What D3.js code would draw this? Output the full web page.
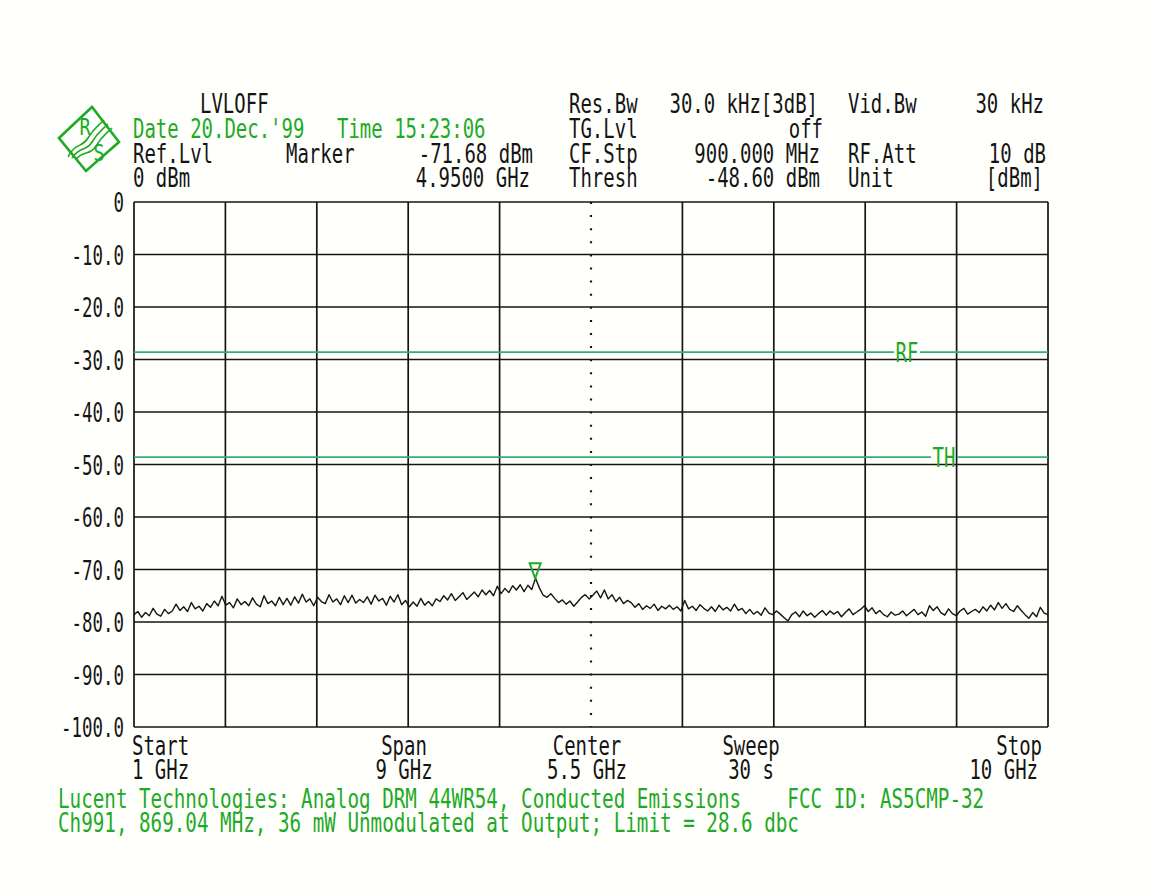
<!DOCTYPE html>
<html>
<head>
<meta charset="utf-8">
<script src="https://cdn.jsdelivr.net/npm/d3@7"></script>
<style>
  html, body { margin: 0; padding: 0; background: #fffffb; }
  svg { display: block; }
  text { font-family: "DejaVu Sans Mono", monospace; font-size: 26px; white-space: pre; }
</style>
</head>
<body>
<svg id="chart" width="1156" height="888"></svg>
<script>
// Sweep settings
const freqStartGHz = 1;
const freqStopGHz = 10;
const xDivisions = 10;

// Level axis
const yTickValues = [0, -10, -20, -30, -40, -50, -60, -70, -80, -90, -100];
const yTickLabels = ["0", "-10.0", "-20.0", "-30.0", "-40.0", "-50.0", "-60.0", "-70.0", "-80.0", "-90.0", "-100.0"];

// Measured trace (dBm), evenly spaced from start to stop frequency
const traceDbm = [
  -78.6, -78.0, -79.1, -78.2, -78.8, -77.4, -78.5, -78.9, -77.6, -78.4,
  -77.9, -76.6, -77.8, -77.1, -78.0, -76.3, -77.5, -77.0, -77.9, -76.5,
  -77.2, -76.0, -76.9, -75.1, -76.8, -76.3, -77.3, -75.6, -76.7, -76.1,
  -76.9, -75.4, -76.6, -77.1, -75.0, -76.5, -76.0, -76.9, -75.3, -76.7,
  -75.5, -76.8, -75.2, -76.4, -74.7, -76.2, -75.6, -76.9, -75.3, -76.1,
  -76.5, -74.8, -76.2, -75.6, -76.7, -75.0, -76.3, -74.9, -76.4, -75.7,
  -76.3, -75.2, -76.6, -74.9, -76.0, -75.5, -76.8, -75.1, -76.2, -74.8,
  -76.7, -75.9, -77.1, -76.2, -77.0, -75.5, -76.8, -76.1, -76.9, -75.6,
  -76.1, -75.0, -75.8, -74.6, -75.9, -75.2, -74.4, -75.7, -75.0, -74.3,
  -75.2, -73.9, -74.8, -74.0, -75.0, -73.2, -74.6, -73.6, -74.4, -73.1,
  -73.9, -72.9, -74.2, -73.0, -73.8, -71.68, -73.5, -74.9, -75.3, -74.6,
  -75.5, -76.3, -75.8, -76.6, -76.0, -77.0, -76.2, -75.3, -74.8, -75.6,
  -74.9, -74.1, -75.4, -73.9, -75.6, -74.8, -76.1, -75.3, -76.5, -75.9,
  -76.3, -77.2, -76.5, -77.6, -76.9, -77.4, -76.6, -77.8, -77.0, -77.5,
  -76.8, -77.6, -77.1, -77.9, -75.9, -77.5, -77.0, -77.8, -76.7, -77.4,
  -77.9, -77.1, -78.0, -76.8, -77.7, -77.2, -77.9, -76.6, -77.8, -77.4,
  -78.4, -77.6, -78.5, -78.0, -78.7, -77.3, -78.3, -78.6, -77.9, -78.5,
  -79.2, -79.8, -78.6, -78.1, -79.0, -77.9, -78.8, -78.3, -79.1, -78.4,
  -77.8, -78.7, -77.9, -78.5, -78.0, -79.0, -78.2, -77.5, -78.6, -78.1,
  -77.6, -76.9, -78.0, -77.3, -78.4, -77.8, -78.6, -79.0, -78.1, -78.7,
  -78.5, -77.9, -78.8, -78.2, -77.6, -78.6, -78.1, -78.9, -76.9, -77.8,
  -77.1, -78.2, -78.7, -77.5, -78.4, -78.8, -77.9, -77.4, -78.5, -78.0,
  -77.6, -78.2, -77.1, -77.9, -76.8, -77.7, -76.3, -77.4, -76.5, -77.6,
  -78.0, -76.9, -77.8, -78.6, -79.3, -78.2, -79.0, -77.2, -78.3, -78.6
];

// Marker readout
const markerFreqGHz = 4.95;
const markerDbm = -71.68;

// Display lines
const lineNames = ["RF", "TH"];
const lineLevels = [-28.6, -48.6];

// Footer annotation
const footerLines = [
  "Lucent Technologies: Analog DRM 44WR54, Conducted Emissions    FCC ID: AS5CMP-32",
  "Ch991, 869.04 MHz, 36 mW Unmodulated at Output; Limit = 28.6 dbc"
];

// Sweep parameter captions under the grid
const sweepCaptions = ["Start", "Span", "Center", "Sweep", "Stop"];
const sweepValues = ["1 GHz", "9 GHz", "5.5 GHz", "30 s", "10 GHz"];

const INK = "#141414";
const GREEN = "#1eaa26";
const LINE_GREEN = "#30b070";

const svg = d3.select("#chart");
svg.append("rect").attr("width", 1156).attr("height", 888).attr("fill", "#fffffb");

const plot = { left: 134, right: 1048, top: 202, bottom: 727 };

const x = d3.scaleLinear().domain([freqStartGHz, freqStopGHz]).range([plot.left, plot.right]);
const y = d3.scaleLinear().domain([-100, 0]).range([plot.bottom, plot.top]);

// Condensed instrument-style text (narrow glyphs, tall caps)
const SX = 0.73, SY = 1.04;
function label(parent, px, py, s, anchor = "start", color = INK, sx = SX) {
  return parent.append("text")
    .attr("transform", `translate(${px},${py}) scale(${sx},${SY})`)
    .attr("text-anchor", anchor)
    .attr("fill", color)
    .text(s);
}

// ---- Grid ----
const grid = svg.append("g");
const xGridFreqs = d3.range(xDivisions + 1).map(i => freqStartGHz + i * (freqStopGHz - freqStartGHz) / xDivisions);

grid.selectAll("line.h").data(yTickValues).join("line")
  .attr("x1", plot.left).attr("x2", plot.right)
  .attr("y1", d => y(d)).attr("y2", d => y(d))
  .attr("stroke", INK).attr("stroke-width", 1.7);

grid.selectAll("line.v").data(xGridFreqs).join("line")
  .attr("x1", d => x(d)).attr("x2", d => x(d))
  .attr("y1", plot.top).attr("y2", plot.bottom)
  .attr("stroke", INK)
  .attr("stroke-width", (d, i) => i === xDivisions / 2 ? 2.2 : 1.7)
  .attr("stroke-dasharray", (d, i) => i === xDivisions / 2 ? "2,11.1" : null);

// Y axis labels
const yAxis = svg.append("g");
yTickValues.forEach((v, i) => {
  label(yAxis, 124, y(v) + 10, yTickLabels[i], "end", INK, 0.67);
});

// ---- Display lines ----
const labelCenters = [907, 944];
lineLevels.forEach((lv, i) => {
  const ly = y(lv);
  const cx = labelCenters[i];
  const half = 13;
  svg.append("line").attr("x1", plot.left).attr("x2", cx - half)
    .attr("y1", ly).attr("y2", ly).attr("stroke", LINE_GREEN).attr("stroke-width", 1.7);
  svg.append("line").attr("x1", cx + half).attr("x2", plot.right)
    .attr("y1", ly).attr("y2", ly).attr("stroke", LINE_GREEN).attr("stroke-width", 1.7);
  label(svg, cx, ly + 10, lineNames[i], "middle", GREEN);
});

// ---- Trace ----
const step = (freqStopGHz - freqStartGHz) / (traceDbm.length - 1);
const line = d3.line()
  .x((d, i) => x(freqStartGHz + i * step))
  .y(d => y(d));
svg.append("path").datum(traceDbm)
  .attr("d", line)
  .attr("fill", "none")
  .attr("stroke", INK)
  .attr("stroke-width", 1.4)
  .attr("stroke-linejoin", "round");

// ---- Marker ----
const mx = x(markerFreqGHz), my = y(markerDbm);
svg.append("path")
  .attr("d", `M${mx - 5.5},${my - 15} L${mx + 5.5},${my - 15} L${mx},${my} Z`)
  .attr("fill", "none").attr("stroke", GREEN).attr("stroke-width", 2);

// ---- Header block ----
const hdr = svg.append("g");
label(hdr, 200, 113, "LVLOFF");
label(hdr, 133, 138, "Date 20.Dec.'99", "start", GREEN);
label(hdr, 337, 138, "Time 15:23:06", "start", GREEN);
label(hdr, 133, 163, "Ref.Lvl");
label(hdr, 286, 163, "Marker");
label(hdr, 533, 163, "-71.68 dBm", "end");
label(hdr, 133, 187, "0 dBm");
label(hdr, 530, 187, "4.9500 GHz", "end");

label(hdr, 569, 113, "Res.Bw");
label(hdr, 818, 113, "30.0 kHz[3dB]", "end");
label(hdr, 848, 113, "Vid.Bw");
label(hdr, 1044, 113, "30 kHz", "end");
label(hdr, 569, 138, "TG.Lvl");
label(hdr, 823, 138, "off", "end");
label(hdr, 569, 163, "CF.Stp");
label(hdr, 820, 163, "900.000 MHz", "end");
label(hdr, 848, 163, "RF.Att");
label(hdr, 1046, 163, "10 dB", "end");
label(hdr, 569, 187, "Thresh");
label(hdr, 820, 187, "-48.60 dBm", "end");
label(hdr, 848, 187, "Unit");
label(hdr, 1043, 187, "[dBm]", "end");

// ---- Logo ----
const logo = svg.append("g").attr("transform", "translate(89,139)");
logo.append("path")
  .attr("d", "M-30,-1 L3,-32 L30,3 L-3,32 Z")
  .attr("fill", "none").attr("stroke", GREEN).attr("stroke-width", 2.6).attr("stroke-linejoin", "miter");
[-4, 0, 4].forEach(o => {
  logo.append("path")
    .attr("d", `M${-17 + o},${19 + o * 0.3} C${-9 + o},${7 + o} ${-3 + o},${13 + o} ${3 + o},${3 + o} S${12 + o},${-8 + o} ${19 + o},${-15 + o}`)
    .attr("fill", "none").attr("stroke", GREEN).attr("stroke-width", 1.6);
});
logo.append("text").attr("transform", "translate(-4,-4) scale(0.8,1)").attr("fill", GREEN)
  .style("font-size", "23px").attr("text-anchor", "middle").text("R");
logo.append("text").attr("transform", "translate(10,22) scale(0.8,1)").attr("fill", GREEN)
  .style("font-size", "23px").attr("text-anchor", "middle").text("S");

// ---- Sweep captions ----
const cap = svg.append("g");
const capPos = [
  { x: 132, a: "start" },
  { x: 404, a: "middle" },
  { x: 587, a: "middle" },
  { x: 751, a: "middle" },
  { x: 1042, a: "end" }
];
sweepCaptions.forEach((c, i) => {
  label(cap, capPos[i].x, 755, c, capPos[i].a);
  label(cap, i === 4 ? 1038 : capPos[i].x, 779, sweepValues[i], capPos[i].a);
});

// ---- Footer ----
footerLines.forEach((t, i) => label(svg, 58, 808 + i * 24, t, "start", GREEN, 0.74));
</script>
</body>
</html>
